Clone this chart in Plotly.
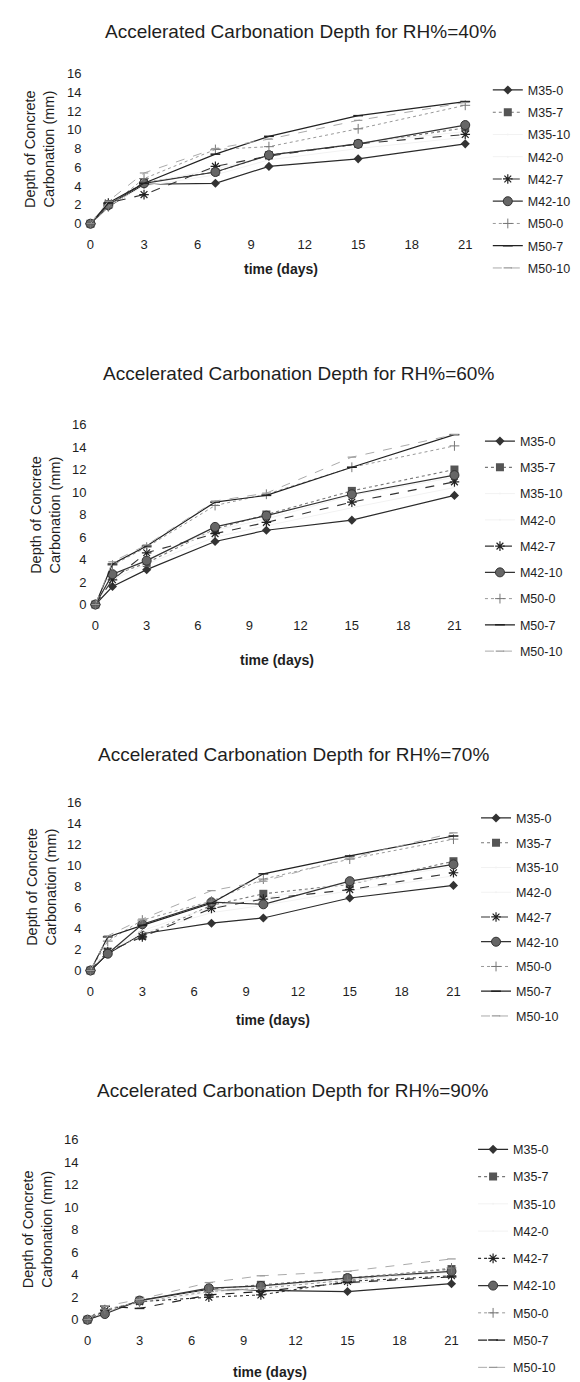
import plotly.graph_objects as go

# ---------------- data ----------------
days = [0, 1, 3, 7, 10, 15, 21]
series_names = ["M35-0", "M35-7", "M35-10", "M42-0", "M42-7", "M42-10", "M50-0", "M50-7", "M50-10"]
panel_titles = [
    "Accelerated Carbonation Depth for RH%=40%",
    "Accelerated Carbonation Depth for RH%=60%",
    "Accelerated Carbonation Depth for RH%=70%",
    "Accelerated Carbonation Depth for RH%=90%",
]
x_ticks = [0, 3, 6, 9, 12, 15, 18, 21]
y_ticks = [0, 2, 4, 6, 8, 10, 12, 14, 16]

# RH 40%
rh40_M35_0 = [0, 1.8, 4.2, 4.3, 6.1, 6.9, 8.5]
rh40_M35_7 = [0, 2.0, 4.4, 5.5, 7.3, 8.5, 10.2]
rh40_M35_10 = [0, 2.0, 4.3, 5.8, 7.2, 8.6, 9.8]
rh40_M42_0 = [0, 1.9, 4.0, 5.2, 6.8, 8.0, 9.2]
rh40_M42_7 = [0, 2.2, 3.1, 6.1, 7.2, 8.5, 9.5]
rh40_M42_10 = [0, 2.0, 4.3, 5.5, 7.3, 8.5, 10.5]
rh40_M50_0 = [0, 1.8, 4.8, 7.9, 8.2, 10.1, 12.6]
rh40_M50_7 = [0, 2.2, 4.3, 7.4, 9.3, 11.5, 13.0]
rh40_M50_10 = [0, 2.4, 5.4, 8.0, 9.0, 11.0, 12.9]

# RH 60%
rh60_M35_0 = [0, 1.6, 3.1, 5.6, 6.6, 7.5, 9.7]
rh60_M35_7 = [0, 2.6, 3.7, 6.7, 8.0, 10.1, 12.0]
rh60_M35_10 = [0, 2.5, 4.0, 6.6, 7.6, 9.7, 11.3]
rh60_M42_0 = [0, 2.2, 3.6, 6.0, 7.0, 8.6, 10.4]
rh60_M42_7 = [0, 2.2, 4.6, 6.3, 7.3, 9.1, 10.9]
rh60_M42_10 = [0, 2.7, 3.9, 6.9, 7.9, 9.8, 11.5]
rh60_M50_0 = [0, 3.5, 5.1, 8.8, 9.8, 12.2, 14.1]
rh60_M50_7 = [0, 3.6, 5.2, 9.1, 9.7, 12.2, 15.1]
rh60_M50_10 = [0, 3.8, 5.3, 9.2, 9.9, 13.1, 15.1]

# RH 70%
rh70_M35_0 = [0, 1.6, 3.5, 4.5, 5.0, 6.9, 8.1]
rh70_M35_7 = [0, 1.8, 3.3, 6.2, 7.3, 8.2, 10.4]
rh70_M35_10 = [0, 1.8, 3.8, 6.0, 6.9, 8.3, 9.9]
rh70_M42_0 = [0, 1.7, 3.6, 5.5, 6.2, 7.6, 9.0]
rh70_M42_7 = [0, 1.8, 3.2, 5.9, 6.8, 7.7, 9.3]
rh70_M42_10 = [0, 1.6, 4.4, 6.5, 6.3, 8.5, 10.1]
rh70_M50_0 = [0, 2.8, 4.8, 6.6, 8.7, 10.6, 12.5]
rh70_M50_7 = [0, 3.2, 4.3, 6.4, 9.2, 10.9, 12.8]
rh70_M50_10 = [0, 3.3, 4.9, 7.6, 8.5, 10.7, 13.1]

# RH 90%
rh90_M35_0 = [0, 0.6, 1.7, 2.7, 2.6, 2.5, 3.2]
rh90_M35_7 = [0, 0.6, 1.7, 2.7, 3.1, 3.7, 4.5]
rh90_M35_10 = [0, 0.7, 1.6, 2.6, 2.9, 3.5, 4.2]
rh90_M42_0 = [0, 0.6, 1.5, 2.4, 2.7, 3.2, 3.8]
rh90_M42_7 = [0, 0.8, 1.6, 2.0, 2.2, 3.4, 3.9]
rh90_M42_10 = [0, 0.5, 1.7, 2.8, 3.0, 3.7, 4.3]
rh90_M50_0 = [0, 0.9, 1.6, 2.5, 2.8, 3.5, 4.6]
rh90_M50_7 = [0, 1.2, 1.0, 2.2, 2.5, 3.3, 3.8]
rh90_M50_10 = [0, 1.2, 1.8, 3.3, 3.9, 4.3, 5.4]

panels_data = [
    [rh40_M35_0, rh40_M35_7, rh40_M35_10, rh40_M42_0, rh40_M42_7, rh40_M42_10, rh40_M50_0, rh40_M50_7, rh40_M50_10],
    [rh60_M35_0, rh60_M35_7, rh60_M35_10, rh60_M42_0, rh60_M42_7, rh60_M42_10, rh60_M50_0, rh60_M50_7, rh60_M50_10],
    [rh70_M35_0, rh70_M35_7, rh70_M35_10, rh70_M42_0, rh70_M42_7, rh70_M42_10, rh70_M50_0, rh70_M50_7, rh70_M50_10],
    [rh90_M35_0, rh90_M35_7, rh90_M35_10, rh90_M42_0, rh90_M42_7, rh90_M42_10, rh90_M50_0, rh90_M50_7, rh90_M50_10],
]

# ---------------- styles ----------------
W, H = 580, 1382
FONT = "Arial, Liberation Sans, sans-serif"
TXT = "#1e1e1e"

styles = {
    "M35-0": dict(line=dict(color="#2a2a2a", width=1.2, dash="solid"),
                  marker=dict(symbol="diamond", size=7, color="#333")),
    "M35-7": dict(line=dict(color="#777", width=1.1, dash="dot"),
                  marker=dict(symbol="square", size=8, color="#555")),
    "M35-10": dict(line=dict(color="#f2f2f2", width=1, dash="solid"),
                   marker=dict(symbol="circle", size=1, color="#f2f2f2")),
    "M42-0": dict(line=dict(color="#f2f2f2", width=1, dash="solid"),
                  marker=dict(symbol="circle", size=1, color="#f2f2f2")),
    "M42-7": dict(line=dict(color="#333", width=1.1, dash="dash"),
                  marker=dict(symbol="asterisk-open", size=8, color="#222", line=dict(width=1.2, color="#222"))),
    "M42-10": dict(line=dict(color="#333", width=1.2, dash="solid"),
                   marker=dict(symbol="circle", size=9, color="#666", line=dict(width=1, color="#333"))),
    "M50-0": dict(line=dict(color="#999", width=1, dash="dot"),
                  marker=dict(symbol="cross-thin-open", size=7, color="#777", line=dict(width=1, color="#777"))),
    "M50-7": dict(line=dict(color="#222", width=1.2, dash="solid"),
                  marker=dict(symbol="line-ew-open", size=7, color="#222", line=dict(width=1.5, color="#222"))),
    "M50-10": dict(line=dict(color="#aaa", width=1, dash="dash"),
                   marker=dict(symbol="line-ew-open", size=6, color="#999", line=dict(width=1.2, color="#999"))),
}

# pixel geometry per panel: x(0), x(21), y(0), y(16)
geom = [
    (80, 462, 211, 59),
    (85, 451, 596, 414),
    (80, 450, 966, 796),
    (77, 448, 1319, 1137),
]
title_pos = [(294, 17), (292, 362), (287, 748), (286, 1087)]
xtitle_pos = [(274, 257), (270, 652), (266, 1016), (263, 1372)]
ytitle_x = [28, 34, 30, 26]
legend_pos = [(485, 61, 3), (477, 416, 7), (473, 797, 5.5), (470, 1132, 8)]

fx = lambda p: p / W
fy = lambda p: 1 - p / H

fig = go.Figure()
layout = dict(width=W, height=H, margin=dict(l=0, r=0, t=0, b=0),
              paper_bgcolor="white", plot_bgcolor="white",
              font=dict(family=FONT, color=TXT), annotations=[])

for i in range(4):
    sfx = "" if i == 0 else str(i + 1)
    x0, x21, y0, y16 = geom[i]
    lname = "legend" + sfx
    for name, vals in zip(series_names, panels_data[i]):
        st = styles[name]
        line = dict(st["line"])
        if i == 3 and name == "M50-7":
            line["dash"] = "dash"
        if i == 3 and name == "M42-7":
            line["dash"] = "dot"
        fig.add_trace(go.Scatter(
            x=days, y=vals, name=name, mode="lines+markers",
            line=line, marker=st["marker"],
            xaxis="x" + sfx, yaxis="y" + sfx, legend=lname,
            legendgroup=f"p{i}-{name}", cliponaxis=False,
        ))
    layout["xaxis" + sfx] = dict(domain=[fx(x0), fx(x21)], range=[0, 21], anchor="y" + sfx,
                                 tickvals=x_ticks, showgrid=False, zeroline=False, showline=False,
                                 ticks="", ticklabelstandoff=11, tickfont=dict(size=13, color=TXT))
    layout["yaxis" + sfx] = dict(domain=[fy(y0), fy(y16)], range=[0, 16], anchor="x" + sfx,
                                 tickvals=y_ticks, showgrid=False, zeroline=False, showline=False,
                                 ticks="", ticklabelstandoff=8, tickfont=dict(size=13, color=TXT))
    lx, ly, gap = legend_pos[i]
    layout[lname] = dict(x=fx(lx), y=fy(ly), xanchor="left", yanchor="top",
                         font=dict(size=12.5, color=TXT), tracegroupgap=gap,
                         bgcolor="rgba(0,0,0,0)", itemwidth=30)
    tx, ty = title_pos[i]
    layout["annotations"].append(dict(text=panel_titles[i], x=fx(tx), y=fy(ty), xref="paper", yref="paper",
                                      showarrow=False, xanchor="center", yanchor="middle",
                                      font=dict(size=19, color=TXT)))
    ax, ay = xtitle_pos[i]
    layout["annotations"].append(dict(text="<b>time (days)</b>", x=fx(ax), y=fy(ay), xref="paper", yref="paper",
                                      showarrow=False, xanchor="center", yanchor="middle",
                                      font=dict(size=14, color=TXT)))
    layout["annotations"].append(dict(text="Depth of Concrete<br>Carbonation (mm)", x=fx(ytitle_x[i]),
                                      y=fy((y0 + y16) / 2), xref="paper", yref="paper", textangle=-90,
                                      showarrow=False, xanchor="center", yanchor="middle",
                                      font=dict(size=14.5, color=TXT)))

fig.update_layout(**layout)
fig.write_html("out.html")
